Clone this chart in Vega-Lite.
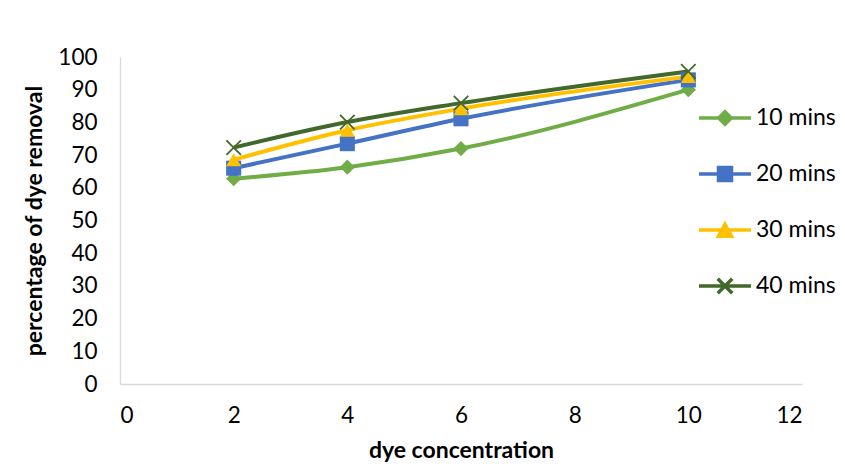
{
  "$schema": "https://vega.github.io/schema/vega-lite/v6.json",
  "width": 682,
  "height": 327,
  "autosize": {"type": "none"},
  "padding": {"left": 120, "top": 57, "right": 43, "bottom": 85},
  "background": "white",
  "config": {
    "font": "Lato",
    "view": {"stroke": null},
    "axis": {
      "grid": false,
      "ticks": false,
      "domainColor": "#D9D9D9",
      "domainWidth": 1.3,
      "labelFont": "Lato",
      "labelFontSize": 22.5,
      "labelColor": "#000000",
      "titleFont": "Lato",
      "titleFontSize": 23,
      "titleFontWeight": "bold",
      "titleColor": "#000000"
    }
  },
  "data": {
    "values": [
      {"conc": 2, "removal": 62.8, "series": "10 mins"},
      {"conc": 4, "removal": 66.3, "series": "10 mins"},
      {"conc": 6, "removal": 72.0, "series": "10 mins"},
      {"conc": 10, "removal": 90.0, "series": "10 mins"},
      {"conc": 2, "removal": 66.0, "series": "20 mins"},
      {"conc": 4, "removal": 73.5, "series": "20 mins"},
      {"conc": 6, "removal": 81.1, "series": "20 mins"},
      {"conc": 10, "removal": 93.0, "series": "20 mins"},
      {"conc": 2, "removal": 68.6, "series": "30 mins"},
      {"conc": 4, "removal": 77.6, "series": "30 mins"},
      {"conc": 6, "removal": 84.2, "series": "30 mins"},
      {"conc": 10, "removal": 94.0, "series": "30 mins"},
      {"conc": 2, "removal": 72.3, "series": "40 mins"},
      {"conc": 4, "removal": 80.1, "series": "40 mins"},
      {"conc": 6, "removal": 85.9, "series": "40 mins"},
      {"conc": 10, "removal": 95.6, "series": "40 mins"}
    ]
  },
  "encoding": {
    "x": {
      "field": "conc",
      "type": "quantitative",
      "title": "dye concentration",
      "scale": {"domain": [0, 12], "nice": false, "zero": false},
      "axis": {"values": [0, 2, 4, 6, 8, 10, 12], "labelPadding": 20, "titlePadding": 13}
    },
    "y": {
      "field": "removal",
      "type": "quantitative",
      "title": "percentage of dye removal",
      "scale": {"domain": [0, 100], "nice": false},
      "axis": {"values": [0, 10, 20, 30, 40, 50, 60, 70, 80, 90, 100], "labelPadding": 23, "titlePadding": 11}
    }
  },
  "layer": [
    {
      "mark": {"type": "line", "interpolate": "monotone", "strokeWidth": 4},
      "encoding": {
        "color": {
          "field": "series",
          "type": "nominal",
          "scale": {
            "domain": ["10 mins", "20 mins", "30 mins", "40 mins"],
            "range": ["#70AD47", "#4472C4", "#FFC000", "#43682B"]
          },
          "legend": {
            "title": null,
            "orient": "none",
            "legendX": 577,
            "legendY": 33,
            "symbolSize": 2704,
            "symbolStrokeWidth": 3.5,
            "labelFont": "Lato",
            "labelFontSize": 23,
            "labelColor": "#000000",
            "labelOffset": 3,
            "rowPadding": 14,
            "encode": {
              "symbols": {
                "update": {
                  "shape": {"signal": "datum.value === '10 mins' ? 'M-1,0H1M0,-0.24L0.24,0L0,0.24L-0.24,0Z' : datum.value === '20 mins' ? 'M-1,0H1M-0.25,-0.25H0.25V0.25H-0.25Z' : datum.value === '30 mins' ? 'M-1,0H1M0,-0.22L0.25,0.24H-0.25Z' : 'M-1,0H1M-0.28,-0.28L0.28,0.28M-0.28,0.28L0.28,-0.28'"},
                  "fill": {"scale": "color", "field": "value"},
                  "stroke": {"scale": "color", "field": "value"}
                }
              }
            }
          }
        },
        "order": {"field": "conc"}
      }
    },
    {
      "transform": [{"filter": "datum.series !== '40 mins'"}],
      "mark": {"type": "point", "filled": true, "opacity": 1},
      "encoding": {
        "color": {"field": "series", "type": "nominal", "legend": null},
        "shape": {
          "field": "series",
          "type": "nominal",
          "scale": {
            "domain": ["10 mins", "20 mins", "30 mins"],
            "range": ["diamond", "square", "triangle-up"]
          },
          "legend": null
        },
        "size": {
          "field": "series",
          "type": "nominal",
          "scale": {"domain": ["10 mins", "20 mins", "30 mins"], "range": [230, 225, 230]},
          "legend": null
        }
      }
    },
    {
      "transform": [{"filter": "datum.series === '40 mins'"}],
      "mark": {"type": "point", "filled": false, "opacity": 1, "shape": "M-1,-1L1,1M-1,1L1,-1", "size": 210, "strokeWidth": 1.8},
      "encoding": {
        "color": {"field": "series", "type": "nominal", "legend": null}
      }
    }
  ]
}
